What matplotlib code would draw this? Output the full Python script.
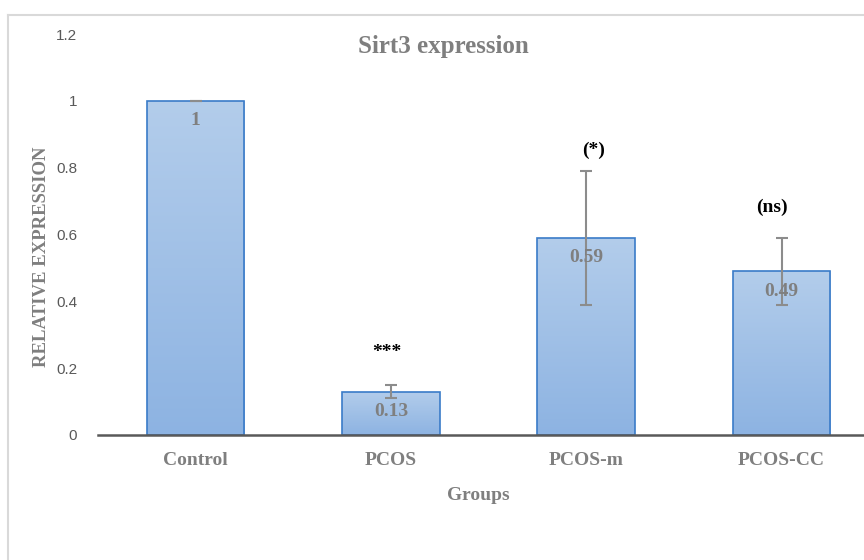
import matplotlib
matplotlib.use("Agg")
import matplotlib.pyplot as plt
import numpy as np
from matplotlib.colors import LinearSegmentedColormap

categories = ["Control", "PCOS", "PCOS-m", "PCOS-CC"]
values = [1.0, 0.13, 0.59, 0.49]
errors = [0.0, 0.02, 0.20, 0.10]
value_labels = ["1", "0.13", "0.59", "0.49"]
sig_labels = ["", "***", "(*)", "(ns)"]
sig_y = [None, 0.248, 0.853, 0.682]
sig_dx = [0.0, -0.02, 0.04, -0.05]
yticks = [0, 0.2, 0.4, 0.6, 0.8, 1.0, 1.2]
ytick_labels = ["0", "0.2", "0.4", "0.6", "0.8", "1", "1.2"]

W, H = 864, 560
fig = plt.figure(figsize=(W / 100, H / 100), dpi=100)
fig.patch.set_facecolor("white")

# chart border (light gray), cropped on right/bottom
fig.add_artist(plt.Line2D([8 / W, 8 / W], [0, 1 - 15 / H], transform=fig.transFigure,
                          color="#d9d9d9", lw=1.5))
fig.add_artist(plt.Line2D([8 / W, 1], [1 - 15 / H, 1 - 15 / H], transform=fig.transFigure,
                          color="#d9d9d9", lw=1.5))

ax_left = 98 / W
ax_w = (879.2 - 98) / W
ax_bottom = 125 / H
ax_h = (526 - 125) / H
ax = fig.add_axes([ax_left, ax_bottom, ax_w, ax_h])
ax.set_facecolor("none")

x = np.arange(len(categories))
bw = 0.5
bars = ax.bar(x, values, width=bw, facecolor="none", edgecolor="#3a7bc8", lw=1.2, zorder=3)

cmap = LinearSegmentedColormap.from_list("g", ["#8db3e2", "#b3cdeb"])
grad = np.linspace(0, 1, 256).reshape(-1, 1)
for b in bars:
    x0 = b.get_x()
    h = b.get_height()
    im = ax.imshow(grad, cmap=cmap, extent=[x0, x0 + bw, 0, h], origin="lower",
                   aspect="auto", zorder=2)
    im.set_clip_path(b)

ax.errorbar(x, values, yerr=errors, fmt="none", ecolor="#8c8c8c", elinewidth=1.5,
            capsize=4, capthick=1.5, zorder=4)

for xi, v, lab in zip(x, values, value_labels):
    ax.text(xi, v - 0.06, lab, ha="center", va="center", fontsize=14, fontweight="bold",
            color="#7f7f7f", family="Liberation Serif", zorder=5)

for xi, lab, sy, dx in zip(x, sig_labels, sig_y, sig_dx):
    if lab:
        ax.text(xi + dx, sy, lab, ha="center", va="center", fontsize=14, fontweight="bold",
                color="black", family="Liberation Serif", zorder=5)

ax.set_xlim(-0.5, len(categories) - 0.5)
ax.set_ylim(0, 1.2)
ax.set_yticks(yticks)
ax.set_yticklabels(ytick_labels, fontsize=11, color="#595959", family="Liberation Sans")
ax.set_xticks(x)
ax.set_xticklabels(categories, fontsize=14, fontweight="bold", color="#7f7f7f",
                   family="Liberation Serif")
ax.tick_params(axis="both", length=0)
ax.tick_params(axis="y", pad=15)
ax.tick_params(axis="x", pad=12)
for s in ["top", "right", "left"]:
    ax.spines[s].set_visible(False)
ax.spines["bottom"].set_color("#595959")
ax.spines["bottom"].set_linewidth(1.8)
ax.spines["bottom"].set_zorder(6)

fig.text(443 / W, 1 - 46 / H, "Sirt3 expression", ha="center", va="center", fontsize=18,
         fontweight="bold", color="#7f7f7f", family="Liberation Serif")
fig.text(478 / W, 1 - 495 / H, "Groups", ha="center", va="center", fontsize=14,
         fontweight="bold", color="#7f7f7f", family="Liberation Serif")
fig.text(42 / W, 1 - 257 / H, "RELATIVE EXPRESSION", ha="center", va="center", rotation=90,
         fontsize=13.5, fontweight="bold", color="#7f7f7f", family="Liberation Serif")

fig.savefig("out.png", dpi=100)
